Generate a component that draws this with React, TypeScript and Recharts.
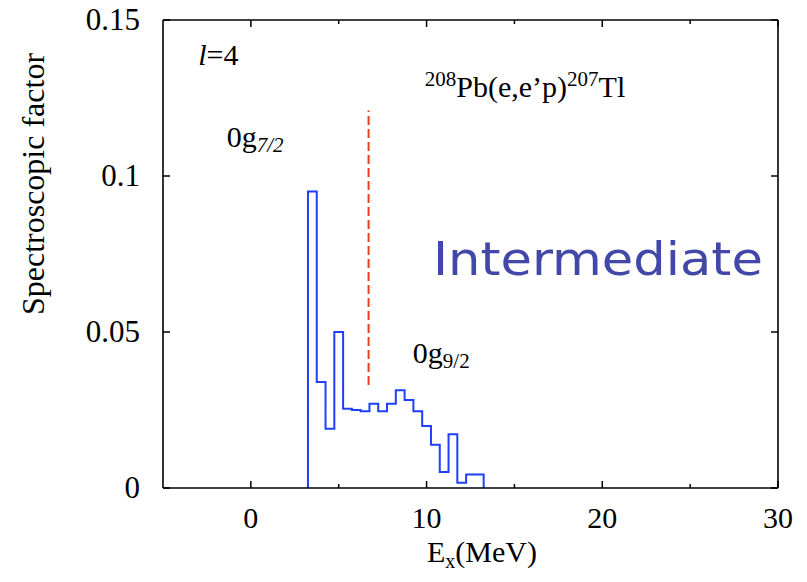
import { LineChart, Line, XAxis, YAxis, ReferenceLine, ReferenceDot } from "recharts";

// histogram bins (MeV), 0.5 MeV wide
const binStart = [
  3.25, 3.75, 4.25, 4.75, 5.25, 5.75, 6.25, 6.75, 7.25, 7.75,
  8.25, 8.75, 9.25, 9.75, 10.25, 10.75, 11.25, 11.75, 12.25, 12.75,
];
const binWidth = 0.5;
const spectroscopicFactor = [
  0.095, 0.034, 0.019, 0.05, 0.0254, 0.025, 0.0246, 0.027, 0.0246, 0.027,
  0.0313, 0.0282, 0.0246, 0.0199, 0.0139, 0.0051, 0.0172, 0.0017, 0.0043, 0.0043,
];

const xTicks = [0, 5, 10, 15, 20, 25, 30];
const yTicks = [0, 0.05, 0.1, 0.15];
const yTickLabels = ["0", "0.05", "0.1", "0.15"];

// red dashed separator
const cutEnergy = 6.7;
const cutFrom = 0.033;
const cutTo = 0.121;

const histogram = [
  { ex: binStart[0], sf: 0 },
  ...binStart.map((ex, i) => ({ ex, sf: spectroscopicFactor[i] })),
  { ex: binStart[binStart.length - 1] + binWidth, sf: 0 },
];

const serif = "'Liberation Serif', 'Times New Roman', serif";
const frame = { stroke: "#000", strokeWidth: 1.6 };

const BottomTick = (props: any) => {
  const { x, y, payload } = props;
  const major = payload.value % 10 === 0;
  return (
    <g>
      <line x1={x} y1={y} x2={x} y2={y - (major ? 7 : 4)} stroke="#000" strokeWidth={1.5} />
      {major && (
        <text x={x} y={y + 40} textAnchor="middle" fontFamily={serif} fontSize={30} fill="#000">
          {payload.value}
        </text>
      )}
    </g>
  );
};

const TopTick = (props: any) => {
  const { x, y, payload } = props;
  const major = payload.value % 10 === 0;
  return <line x1={x} y1={y} x2={x} y2={y + (major ? 7 : 4)} stroke="#000" strokeWidth={1.5} />;
};

const LeftTick = (props: any) => {
  const { x, y, payload } = props;
  const i = yTicks.indexOf(payload.value);
  return (
    <g>
      <line x1={x} y1={y} x2={x + 7} y2={y} stroke="#000" strokeWidth={1.5} />
      <text x={x - 23} y={y + 10} textAnchor="end" fontFamily={serif} fontSize={31} fill="#000">
        {yTickLabels[i]}
      </text>
    </g>
  );
};

const RightTick = (props: any) => {
  const { x, y } = props;
  return <line x1={x} y1={y} x2={x - 7} y2={y} stroke="#000" strokeWidth={1.5} />;
};

const note = (body: any, extra: any = {}) => ({
  content: (p: any) => (
    <text x={p.viewBox.x} y={p.viewBox.y} fontFamily={serif} fontSize={30} fill="#000" {...extra}>
      {body}
    </text>
  ),
});

export default function App() {
  return (
    <div style={{ position: "absolute", left: 0, top: 0, background: "#fff" }}>
      <LineChart
        width={807}
        height={582}
        data={histogram}
        margin={{ top: 19, right: 28, bottom: 93, left: 162 }}
      >
        <XAxis
          dataKey="ex"
          type="number"
          domain={[-5, 30]}
          ticks={xTicks}
          interval={0}
          height={1}
          tickSize={0}
          tickMargin={0}
          tickLine={false}
          axisLine={frame}
          tick={<BottomTick />}
          allowDataOverflow
          label={{
            content: () => (
              <text x={427} y={562} fontFamily={serif} fontSize={30} fill="#000">
                E<tspan fontSize={20} dy={6}>x</tspan>
                <tspan dy={-6}>(MeV)</tspan>
              </text>
            ),
          }}
        />
        <XAxis
          xAxisId="top"
          orientation="top"
          dataKey="ex"
          type="number"
          domain={[-5, 30]}
          ticks={xTicks}
          interval={0}
          height={1}
          tickSize={0}
          tickMargin={0}
          tickLine={false}
          axisLine={frame}
          tick={<TopTick />}
          allowDataOverflow
        />
        <YAxis
          type="number"
          domain={[0, 0.15]}
          ticks={yTicks}
          interval={0}
          width={1}
          tickSize={0}
          tickMargin={0}
          tickLine={false}
          axisLine={frame}
          tick={<LeftTick />}
          allowDataOverflow
          label={{
            content: () => (
              <text
                x={33}
                y={184}
                transform="rotate(-90, 33, 184)"
                textAnchor="middle"
                dominantBaseline="central"
                fontFamily={serif}
                fontSize={32}
                fill="#000"
              >
                Spectroscopic factor
              </text>
            ),
          }}
        />
        <YAxis
          yAxisId="right"
          orientation="right"
          type="number"
          domain={[0, 0.15]}
          ticks={yTicks}
          interval={0}
          width={1}
          tickSize={0}
          tickMargin={0}
          tickLine={false}
          axisLine={frame}
          tick={<RightTick />}
          allowDataOverflow
        />
        <ReferenceLine
          segment={[
            { x: cutEnergy, y: cutFrom },
            { x: cutEnergy, y: cutTo },
          ]}
          stroke="#e8401c"
          strokeWidth={2}
          strokeDasharray="9 4"
        />
        <Line
          type="stepAfter"
          dataKey="sf"
          stroke="#1f3fff"
          strokeWidth={2}
          dot={false}
          isAnimationActive={false}
        />
        <ReferenceDot
          x={-3}
          y={0.1356}
          r={0}
          fill="none"
          stroke="none"
          label={note(
            <>
              <tspan fontStyle="italic">l</tspan>=4
            </>
          )}
        />
        <ReferenceDot
          x={-1.37}
          y={0.1093}
          r={0}
          fill="none"
          stroke="none"
          label={note(
            <>
              0g
              <tspan fontSize={21} fontStyle="italic" dy={5}>
                7/2
              </tspan>
            </>
          )}
        />
        <ReferenceDot
          x={9.22}
          y={0.04}
          r={0}
          fill="none"
          stroke="none"
          label={note(
            <>
              0g
              <tspan fontSize={21} dy={5}>
                9/2
              </tspan>
            </>
          )}
        />
        <ReferenceDot
          x={9.9}
          y={0.1253}
          r={0}
          fill="none"
          stroke="none"
          label={note(
            <>
              <tspan fontSize={21} dy={-11}>208</tspan>
              <tspan dy={11}>Pb(e,e’p)</tspan>
              <tspan fontSize={21} dy={-11}>207</tspan>
              <tspan dy={11}>Tl</tspan>
            </>
          )}
        />
        <ReferenceDot
          x={10.36}
          y={0.0683}
          r={0}
          fill="none"
          stroke="none"
          label={note("Intermediate", {
            fontFamily: "'Comic Sans MS', 'DejaVu Sans', sans-serif",
            fontSize: 47,
            fill: "#4347a8",
            textLength: 330,
            lengthAdjust: "spacingAndGlyphs",
          })}
        />
      </LineChart>
    </div>
  );
}
